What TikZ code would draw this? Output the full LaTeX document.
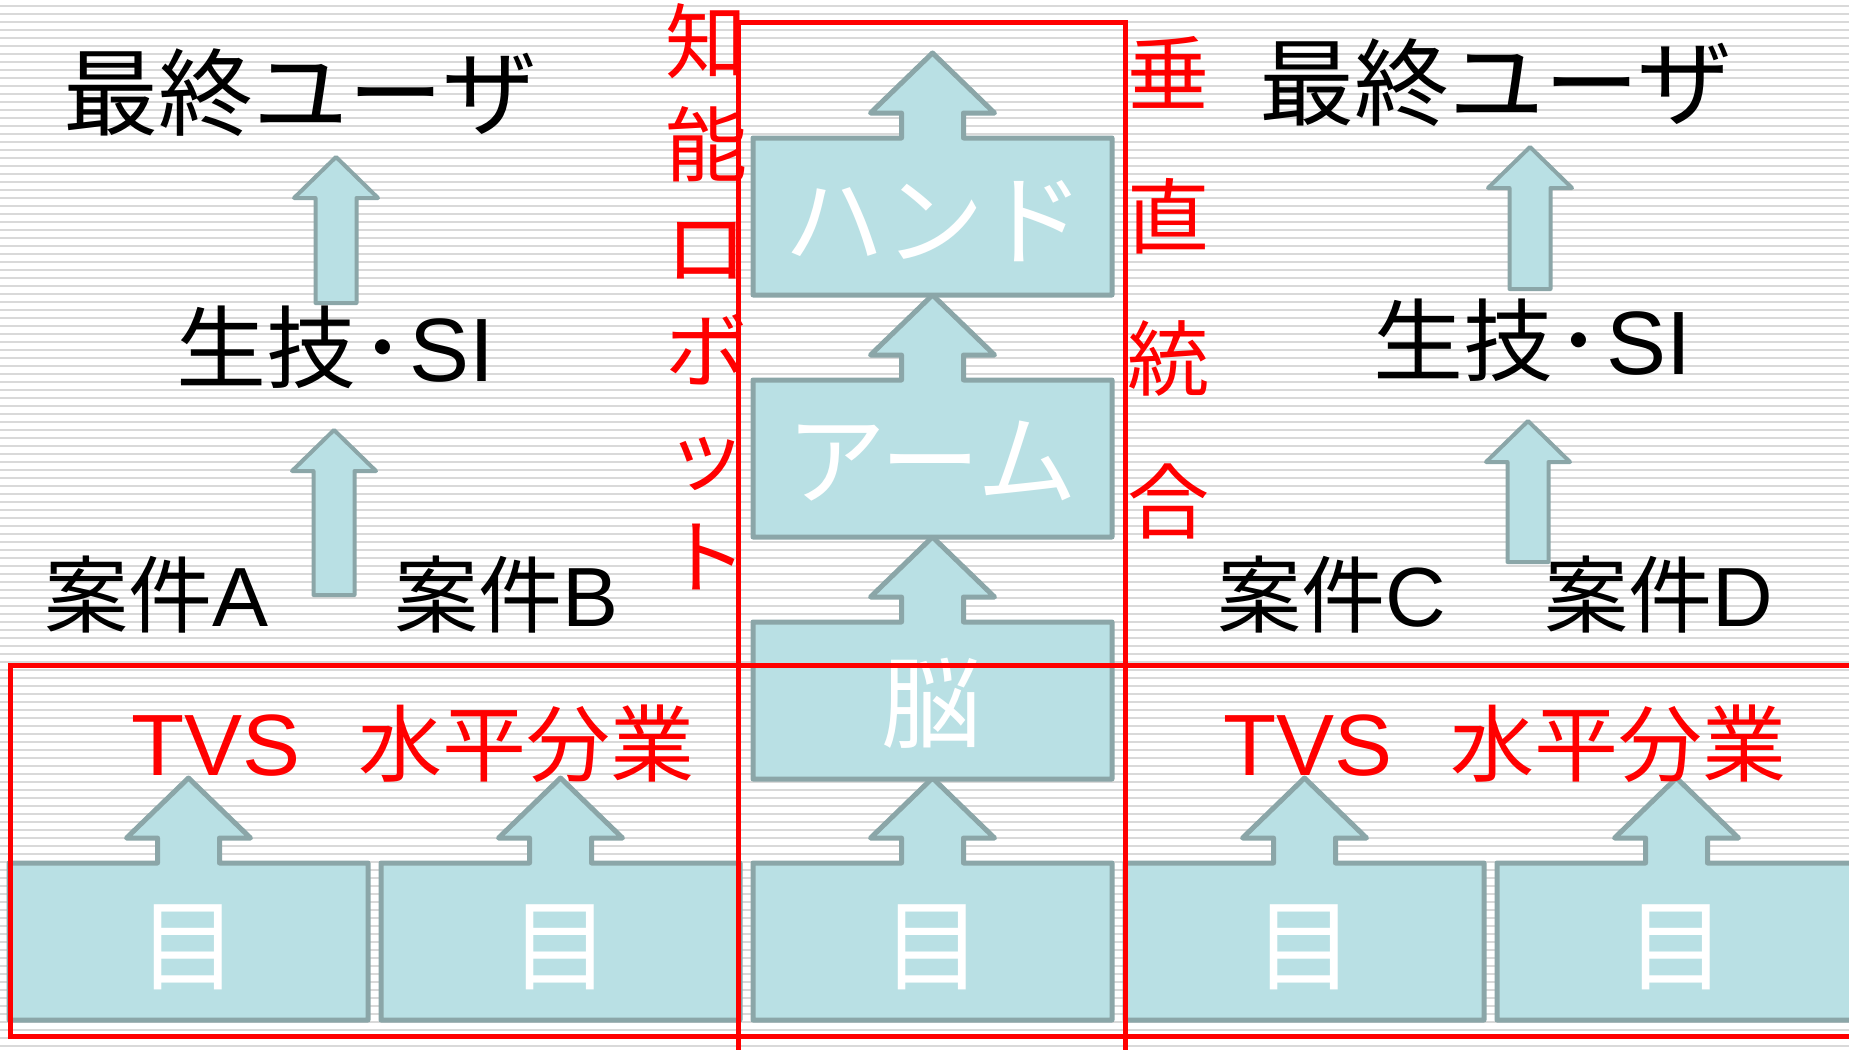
\documentclass[tikz,border=0pt]{standalone}
\usepackage{fontspec}
\setmainfont{Noto Sans CJK JP}
\newfontfamily\latf{Liberation Sans}
\definecolor{boxfill}{RGB}{185,224,228}
\definecolor{boxline}{RGB}{139,166,168}
\definecolor{stripecol}{RGB}{217,217,217}
\definecolor{labred}{RGB}{255,0,0}
\newcommand{\myfs}[1]{\fontsize{#1}{#1}\selectfont}
\begin{document}
\begin{tikzpicture}[x=1pt,y=-1pt,
  boxsty/.style={fill=boxfill,draw=boxline,line width=5pt,line join=round},
  arrsty/.style={fill=boxfill,draw=boxline,line width=4pt,line join=round},
  redsty/.style={draw=labred,line width=5pt},
  stripesty/.style={draw=stripecol,line width=2pt},
  blk/.style={inner sep=0pt,text=black},
  wht/.style={inner sep=0pt,text=white,font=\myfs{100}},
  rlab/.style={inner sep=0pt,text=labred,font=\myfs{87}},
  vlab/.style={inner sep=0pt,text=labred,font=\myfs{82},anchor=base},
  boxarrow/.pic={\path[boxsty] (-179.5,157) -- (-179.5,0) -- (-31,0) -- (-31,-25) -- (-62,-25) -- (0,-85) -- (62,-25) -- (31,-25) -- (31,0) -- (179.5,0) -- (179.5,157) -- cycle;},
  smallarr/.pic={\path[arrsty] (-20.5,0) -- (-20.5,{41-#1}) -- (-42,{41-#1}) -- (0,{-#1}) -- (42,{41-#1}) -- (20.5,{41-#1}) -- (20.5,0) -- cycle;}
]
\useasboundingbox (0,0) rectangle (1849,1049);
\clip (0,0) rectangle (1849,1049);
\fill[white] (0,0) rectangle (1849,1049);
\foreach \k in {0,...,131} \draw[stripesty] (0,{6+8*\k}) -- (1849,{6+8*\k});

% bottom row boxes with arrows
\foreach \cx in {188.5,560.5,932.5,1304.5,1676.5} \pic at (\cx,863) {boxarrow};
% centre column
\pic at (932.5,622) {boxarrow};
\pic at (932.5,380) {boxarrow};
\pic at (932.5,138) {boxarrow};

% small arrows
\pic at (336,303) {smallarr=146};
\pic at (334,595) {smallarr=165};
\pic at (1530,289) {smallarr=142};
\pic at (1528,562) {smallarr=141};

% texts in boxes
\node[wht] (hand) at (934.5,221) {ハンド};
\node[wht] (arm) at (931.5,461.5) {アーム};
\node[wht] (brain) at (931.5,703.5) {脳};
\node[wht] (eye1) at (188.5,947.5) {目};
\node[wht] (eye2) at (560.5,947.5) {目};
\node[wht] (eye3) at (932.5,947.5) {目};
\node[wht] (eye4) at (1304.5,947.5) {目};
\node[wht] (eye5) at (1676.5,947.5) {目};

% black texts
\node[blk,font=\myfs{95}] (userL) at (300.5,93) {最終ユーザ};
\node[blk,font=\myfs{95}] (userR) at (1496,83) {最終ユーザ};
\node[blk,font=\myfs{90}] (siL) at (335.5,347.5) {生技\hspace{4pt}･\hspace{4pt}{\latf SI}};
\node[blk,font=\myfs{90}] (siR) at (1532,340) {生技\hspace{4pt}･\hspace{4pt}{\latf SI}};
\node[blk,font=\myfs{84}] (caseA) at (157,595) {案件{\latf A}};
\node[blk,font=\myfs{84}] (caseB) at (507,595) {案件{\latf B}};
\node[blk,font=\myfs{84}] (caseC) at (1332,595) {案件{\latf C}};
\node[blk,font=\myfs{84}] (caseD) at (1659,595) {案件{\latf D}};

% red labels
\node[rlab,anchor=west] (tvsL) at (131,743.5) {{\latf TVS}\hspace{58pt}{\myfs{84}水平分業}};
\node[rlab,anchor=west] (tvsR) at (1223,743.5) {{\latf TVS}\hspace{58pt}{\myfs{84}水平分業}};
\foreach \c [count=\i from 0] in {知,能,ロ,ボ,ッ,ト}
  \node[vlab] (vl\i) at (706,{72.5+103*\i}) {\c};
\foreach \c [count=\i from 0] in {垂,直,統,合}
  \node[vlab] (vr\i) at (1168,{104.5+142.5*\i}) {\c};

% red frames
\draw[redsty] (10,665) rectangle (1880,1036);
\draw[redsty] (738,23) rectangle (1125,1080);
\end{tikzpicture}
\end{document}
